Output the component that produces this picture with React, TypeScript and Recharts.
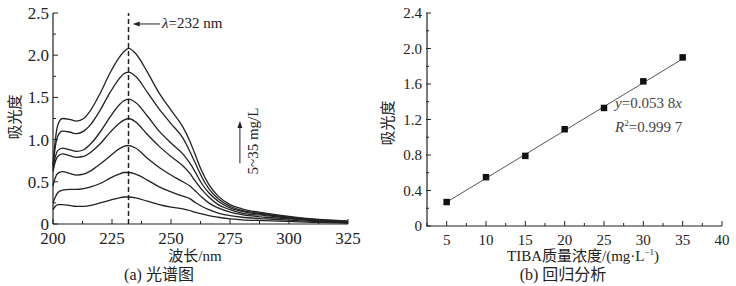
import React from 'react'
import { LineChart, Line, XAxis, YAxis, ReferenceLine, ComposedChart, Scatter, ZAxis } from 'recharts'

// ---- panel (a): UV spectra, 5~35 mg/L ----
const wavelengths = [200, 201, 202, 204, 207, 210, 213, 216, 220, 224, 228, 230, 232, 235, 240, 245, 250, 255, 258, 260, 263, 266, 270, 275, 280, 290, 300, 310, 325]

const abs5 = [0.17, 0.21, 0.23, 0.23, 0.22, 0.21, 0.21, 0.22, 0.25, 0.28, 0.31, 0.32, 0.32, 0.31, 0.27, 0.23, 0.2, 0.18, 0.16, 0.14, 0.12, 0.1, 0.08, 0.06, 0.05, 0.04, 0.03, 0.02, 0.01]
const abs10 = [0.25, 0.32, 0.37, 0.4, 0.41, 0.41, 0.42, 0.44, 0.48, 0.54, 0.59, 0.61, 0.61, 0.59, 0.52, 0.44, 0.38, 0.33, 0.3, 0.26, 0.21, 0.17, 0.13, 0.1, 0.08, 0.06, 0.045, 0.03, 0.015]
const abs15 = [0.45, 0.55, 0.6, 0.62, 0.6, 0.58, 0.59, 0.63, 0.71, 0.8, 0.89, 0.92, 0.93, 0.9, 0.78, 0.67, 0.58, 0.5, 0.45, 0.4, 0.32, 0.25, 0.19, 0.14, 0.11, 0.08, 0.06, 0.04, 0.02]
const abs20 = [0.62, 0.74, 0.8, 0.83, 0.81, 0.79, 0.8, 0.85, 0.95, 1.08, 1.19, 1.23, 1.25, 1.21, 1.06, 0.92, 0.8, 0.69, 0.6, 0.52, 0.41, 0.32, 0.23, 0.17, 0.13, 0.1, 0.07, 0.045, 0.025]
const abs25 = [0.65, 0.8, 0.87, 0.9, 0.88, 0.86, 0.88, 0.95, 1.09, 1.26, 1.41, 1.46, 1.48, 1.44, 1.28, 1.1, 0.96, 0.83, 0.72, 0.63, 0.48, 0.37, 0.27, 0.19, 0.15, 0.11, 0.075, 0.05, 0.03]
const abs30 = [0.68, 0.92, 1.04, 1.1, 1.09, 1.07, 1.1, 1.18, 1.35, 1.55, 1.72, 1.78, 1.8, 1.75, 1.56, 1.36, 1.19, 1.02, 0.86, 0.74, 0.56, 0.42, 0.3, 0.21, 0.16, 0.12, 0.08, 0.055, 0.03]
const abs35 = [0.7, 1.0, 1.17, 1.25, 1.24, 1.22, 1.25, 1.35, 1.55, 1.78, 1.97, 2.04, 2.08, 2.02, 1.8, 1.55, 1.35, 1.15, 0.98, 0.84, 0.63, 0.47, 0.33, 0.23, 0.18, 0.13, 0.09, 0.06, 0.035]

const specKeys = ['c5', 'c10', 'c15', 'c20', 'c25', 'c30', 'c35']
const specSeries = [abs5, abs10, abs15, abs20, abs25, abs30, abs35]

const specMajorX = [200, 225, 250, 275, 300, 325]
const specTicksX = [200, 212.5, 225, 237.5, 250, 262.5, 275, 287.5, 300, 312.5, 325]
const specMajorY = [0, 0.5, 1, 1.5, 2, 2.5]
const specTicksY = [0, 0.25, 0.5, 0.75, 1, 1.25, 1.5, 1.75, 2, 2.25, 2.5]

// ---- panel (b): calibration ----
const concX = [5, 10, 15, 20, 25, 30, 35]
const absY = [0.27, 0.55, 0.79, 1.09, 1.33, 1.63, 1.9]
const fitX = [5, 35]
const fitY = [0.269, 1.883]

const calMajorX = [5, 10, 15, 20, 25, 30, 35, 40]
const calTicksX = [2.5, 5, 7.5, 10, 12.5, 15, 17.5, 20, 22.5, 25, 27.5, 30, 32.5, 35, 37.5, 40]
const calMajorY = [0, 0.4, 0.8, 1.2, 1.6, 2, 2.4]
const calTicksY = [0, 0.2, 0.4, 0.6, 0.8, 1, 1.2, 1.4, 1.6, 1.8, 2, 2.2, 2.4]

const specData = wavelengths.map((w, i) => {
  const row: any = { w }
  specKeys.forEach((k, j) => { row[k] = specSeries[j][i] })
  return row
})
const calData = concX.map((x, i) => ({ x, y: absY[i] }))
const fitData = fitX.map((x, i) => ({ x, y: fitY[i] }))

const INK = '#222'
const FONT = '"Liberation Serif", "Noto Sans CJK SC", serif'
const LEFT_GAP = 4
const BOTTOM_GAP = 8

const isIn = (arr: number[], v: number) => arr.some(m => Math.abs(m - v) < 1e-6)
const fmtY = (v: number) => (v === 0 ? '0' : v.toFixed(1))

function leftTick(majors: number[], size: number) {
  return (props: any) => {
    const { x, y, payload } = props
    const major = isIn(majors, payload.value)
    const ax = x + LEFT_GAP
    return (
      <g>
        <line x1={ax} x2={ax + (major ? 5 : 3)} y1={y} y2={y} stroke={INK} strokeWidth={1} />
        {major && (
          <text x={x} y={y} dy="0.35em" textAnchor="end" fontSize={size} fill={INK} fontFamily={FONT}>
            {fmtY(payload.value)}
          </text>
        )}
      </g>
    )
  }
}

function bottomTick(majors: number[], size: number) {
  return (props: any) => {
    const { x, y, payload } = props
    const major = isIn(majors, payload.value)
    const ay = y - BOTTOM_GAP
    return (
      <g>
        <line x1={x} x2={x} y1={ay} y2={ay - (major ? 5 : 3)} stroke={INK} strokeWidth={1} />
        {major && (
          <text x={x} y={y} dy="0.72em" textAnchor="middle" fontSize={size} fill={INK} fontFamily={FONT}>
            {payload.value}
          </text>
        )}
      </g>
    )
  }
}

// arrow with its head on the first segment point
const Arrow = (props: any) => {
  const { x1, y1, x2, y2 } = props
  const a = Math.atan2(y1 - y2, x1 - x2)
  const L = 7
  const W = 2.5
  const bx = x1 - L * Math.cos(a)
  const by = y1 - L * Math.sin(a)
  const pts = `${x1},${y1} ${bx + W * Math.sin(a)},${by - W * Math.cos(a)} ${bx - W * Math.sin(a)},${by + W * Math.cos(a)}`
  return (
    <g>
      <line x1={bx} y1={by} x2={x2} y2={y2} stroke={INK} strokeWidth={1} />
      <polygon points={pts} fill={INK} />
    </g>
  )
}

const txt = (left: number, top: number, size: number, rotate = false, extra: any = {}) => ({
  position: 'absolute' as const,
  left,
  top,
  fontSize: size,
  whiteSpace: 'nowrap' as const,
  lineHeight: 1,
  transform: `translate(-50%, -50%)${rotate ? ' rotate(-90deg)' : ''}`,
  ...extra,
})

const supStyle = { fontSize: 9, position: 'relative' as const, top: -6 }

export default function App() {
  return (
    <div style={{ position: 'absolute', left: 0, top: 0, width: 736, height: 286, background: '#fff', fontFamily: FONT, color: INK, overflow: 'hidden' }}>
      <div style={{ position: 'absolute', left: 0, top: 0 }}>
        <LineChart width={370} height={286} data={specData} margin={{ top: 13, right: 22, bottom: 32, left: 13 }}>
          <XAxis dataKey="w" type="number" domain={[200, 325]} ticks={specTicksX} interval={0} height={30}
            tickSize={0} tickMargin={BOTTOM_GAP} tickLine={false} axisLine={{ stroke: INK, strokeWidth: 1.2 }} tick={bottomTick(specMajorX, 17)} />
          <YAxis type="number" domain={[0, 2.5]} ticks={specTicksY} interval={0} width={40}
            tickSize={0} tickMargin={LEFT_GAP} tickLine={false} axisLine={{ stroke: INK, strokeWidth: 1.2 }} tick={leftTick(specMajorY, 17)} />
          <ReferenceLine x={232} stroke={INK} strokeWidth={1.5} strokeDasharray="5 3" />
          <ReferenceLine segment={[{ x: 233.8, y: 2.37 }, { x: 245.3, y: 2.37 }]} shape={Arrow} />
          <ReferenceLine segment={[{ x: 279.2, y: 1.22 }, { x: 279.2, y: 0.72 }]} shape={Arrow} />
          {specKeys.map(k => (
            <Line key={k} dataKey={k} type="monotone" stroke={INK} strokeWidth={1.3} dot={false} isAnimationActive={false} />
          ))}
        </LineChart>
      </div>

      <div style={{ position: 'absolute', left: 370, top: 0 }}>
        <ComposedChart width={366} height={286} margin={{ top: 13, right: 14, bottom: 30, left: 17 }}>
          <XAxis dataKey="x" type="number" domain={[2.5, 40]} ticks={calTicksX} interval={0} height={30}
            tickSize={0} tickMargin={BOTTOM_GAP} tickLine={false} axisLine={{ stroke: INK, strokeWidth: 1.2 }} tick={bottomTick(calMajorX, 15)} />
          <YAxis type="number" domain={[0, 2.4]} ticks={calTicksY} interval={0} width={40}
            tickSize={0} tickMargin={LEFT_GAP + 1} tickLine={false} axisLine={{ stroke: INK, strokeWidth: 1.2 }} tick={leftTick(calMajorY, 15)} />
          <ZAxis range={[42, 42]} />
          <Line data={fitData} dataKey="y" type="linear" stroke="#555" strokeWidth={1} dot={false} isAnimationActive={false} />
          <Scatter data={calData} dataKey="y" shape="square" fill="#111" isAnimationActive={false} />
        </ComposedChart>
      </div>

      {/* panel (a) texts */}
      <div style={txt(15, 117, 15, true)}>吸光度</div>
      <div style={txt(195, 256, 15)}>波长/nm</div>
      <div style={txt(159, 275, 16)}>(a) 光谱图</div>
      <div style={{ position: 'absolute', left: 162, top: 16, fontSize: 15, lineHeight: 1, whiteSpace: 'nowrap' }}>
        <i>λ</i>=232 nm
      </div>
      <div style={txt(253, 141, 15, true)}>5~35 mg/L</div>

      {/* panel (b) texts */}
      <div style={txt(388, 123, 15, true)}>吸光度</div>
      <div style={txt(583, 256, 15)}>
        TIBA质量浓度/(mg·L<span style={supStyle}>−1</span>)
      </div>
      <div style={txt(563, 275, 16)}>(b) 回归分析</div>
      <div style={{ position: 'absolute', left: 615, top: 96, fontSize: 15, lineHeight: 1, whiteSpace: 'nowrap', color: '#444' }}>
        <i>y</i>=0.053 8<i>x</i>
      </div>
      <div style={{ position: 'absolute', left: 615, top: 120, fontSize: 15, lineHeight: 1, whiteSpace: 'nowrap', color: '#444' }}>
        <i>R</i><span style={supStyle}>2</span>=0.999 7
      </div>
    </div>
  )
}
